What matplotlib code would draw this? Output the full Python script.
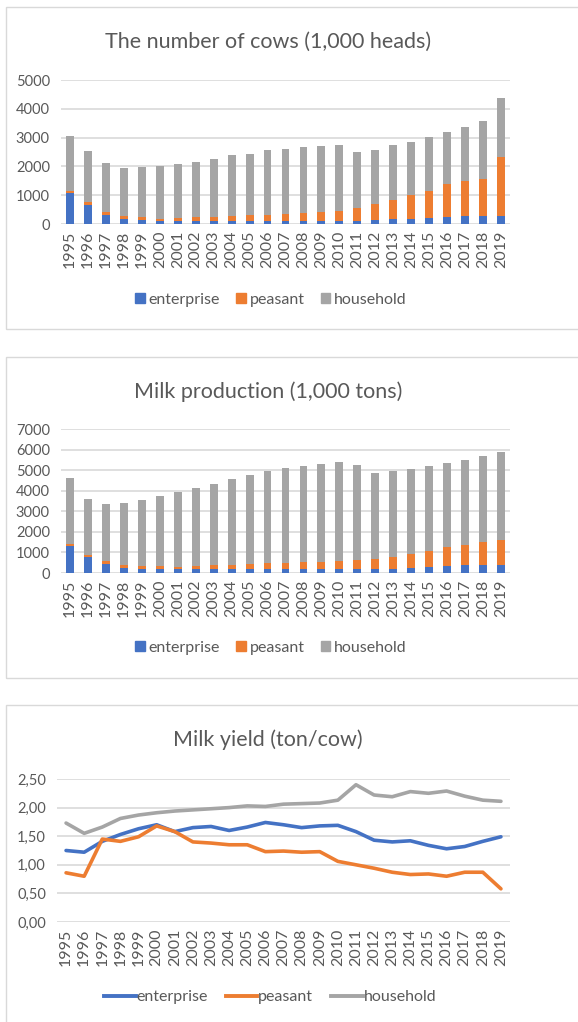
import matplotlib
matplotlib.use("Agg")
import matplotlib.pyplot as plt
from matplotlib.patches import Rectangle
from matplotlib.lines import Line2D
from matplotlib.ticker import FuncFormatter

years = [str(y) for y in range(1995, 2020)]
series_names = ["enterprise", "peasant", "household"]
colors = ["#4472C4", "#ED7D31", "#A5A5A5"]

# Number of cows (1,000 heads)
cows_enterprise = [1076, 648, 301, 174, 127, 116, 116, 116, 116, 116, 93, 93, 93, 93, 93,
                   116, 116, 150, 162, 174, 197, 243, 266, 266, 266]
cows_peasant = [70, 104, 104, 104, 104, 69, 104, 115, 139, 162, 208, 231, 266, 301, 312,
                347, 451, 544, 671, 833, 949, 1157, 1215, 1308, 2049]
cows_household = [1898, 1794, 1701, 1666, 1737, 1840, 1863, 1933, 2014, 2106, 2141, 2245,
                  2234, 2291, 2315, 2292, 1933, 1887, 1898, 1829, 1863, 1806, 1875, 1991, 2048]

# Milk production (1,000 tons)
milk_enterprise = [1329, 794, 437, 259, 211, 211, 178, 178, 178, 178, 178, 178, 178, 178, 178,
                   178, 178, 211, 211, 243, 275, 324, 373, 389, 405]
milk_peasant = [65, 81, 163, 146, 145, 145, 130, 178, 211, 227, 259, 308, 324, 341, 373,
                405, 454, 486, 583, 664, 794, 924, 1004, 1118, 1199]
milk_household = [3240, 2738, 2738, 2998, 3209, 3403, 3613, 3760, 3937, 4164, 4327, 4456,
                  4602, 4699, 4764, 4797, 4602, 4164, 4148, 4165, 4116, 4099, 4132, 4197, 4278]

# Milk yield (ton/cow)
yield_enterprise = [1.25, 1.22, 1.41, 1.53, 1.63, 1.70, 1.58, 1.65, 1.67, 1.60, 1.66, 1.74, 1.70,
                    1.65, 1.68, 1.69, 1.58, 1.43, 1.40, 1.42, 1.34, 1.28, 1.32, 1.41, 1.49]
yield_peasant = [0.86, 0.80, 1.45, 1.41, 1.49, 1.68, 1.58, 1.40, 1.38, 1.35, 1.35, 1.23, 1.24,
                 1.22, 1.23, 1.06, 1.00, 0.94, 0.87, 0.83, 0.84, 0.80, 0.87, 0.87, 0.58]
yield_household = [1.73, 1.55, 1.66, 1.81, 1.87, 1.91, 1.94, 1.96, 1.98, 2.00, 2.03, 2.02, 2.06,
                   2.07, 2.08, 2.13, 2.40, 2.22, 2.19, 2.28, 2.25, 2.29, 2.20, 2.13, 2.11]

plt.rcParams["font.family"] = ["Lato", "DejaVu Sans"]
TXT = "#595959"
GRID = "#D9D9D9"
W, H = 578, 1022

fig = plt.figure(figsize=(W / 100, H / 100), dpi=100)


def rect(x0, x1, ytop, ybot):
    return [x0 / W, 1 - ybot / H, (x1 - x0) / W, (ybot - ytop) / H]


# panel borders
for (ytop, ybot) in [(7, 329), (357, 678), (705, 1030)]:
    fig.patches.append(Rectangle((6 / W, 1 - ybot / H), (W + 10) / W, (ybot - ytop) / H,
                                 transform=fig.transFigure, fill=False,
                                 edgecolor=GRID, linewidth=1.0, zorder=0))


def style_axes(ax, ymax, step, fmt=None):
    ax.set_ylim(0, ymax)
    ax.set_xlim(-0.5, len(years) - 0.5)
    ax.set_yticks([i * step for i in range(int(round(ymax / step)) + 1)])
    if fmt:
        ax.yaxis.set_major_formatter(FuncFormatter(fmt))
    for s in ax.spines.values():
        s.set_visible(False)
    ax.grid(axis="y", color=GRID, linewidth=1.2)
    ax.set_axisbelow(True)
    ax.tick_params(axis="both", length=0, colors=TXT)
    ax.tick_params(axis="y", pad=8, labelsize=10.5)
    ax.tick_params(axis="x", pad=5, labelsize=11.5)
    ax.set_xticks(range(len(years)))
    ax.set_xticklabels(years, rotation=90)


def bar_chart(ax, ent, pea, hh, ymax, step):
    x = range(len(years))
    ax.bar(x, ent, width=0.44, color=colors[0])
    ax.bar(x, pea, width=0.44, bottom=ent, color=colors[1])
    bottom3 = [a + b for a, b in zip(ent, pea)]
    ax.bar(x, hh, width=0.44, bottom=bottom3, color=colors[2])
    style_axes(ax, ymax, step)


ax1 = fig.add_axes(rect(61, 510, 80, 224))
bar_chart(ax1, cows_enterprise, cows_peasant, cows_household, 5000, 1000)
ax2 = fig.add_axes(rect(61, 510, 429, 573))
bar_chart(ax2, milk_enterprise, milk_peasant, milk_household, 7000, 1000)

ax3 = fig.add_axes(rect(57, 510, 779, 922))
x = range(len(years))
for vals, c in zip([yield_enterprise, yield_peasant, yield_household], colors):
    ax3.plot(x, vals, color=c, linewidth=2.6, solid_capstyle="round")
style_axes(ax3, 2.5, 0.5, fmt=lambda v, p: f"{v:.2f}".replace(".", ","))

# titles
fig.text(268 / W, 1 - 42 / H, "The number of cows (1,000 heads)", ha="center", va="center",
         fontsize=15.5, color=TXT)
fig.text(268 / W, 1 - 392 / H, "Milk production (1,000 tons)", ha="center", va="center",
         fontsize=15.5, color=TXT)
fig.text(268 / W, 1 - 740 / H, "Milk yield (ton/cow)", ha="center", va="center",
         fontsize=15.5, color=TXT)

# legends
sq = [Rectangle((0, 0), 1, 1, color=c) for c in colors]
for yc in [300, 648]:
    fig.legend(sq, series_names, loc="center", bbox_to_anchor=(271 / W, 1 - yc / H),
               ncol=3, frameon=False, fontsize=11.5, labelcolor=TXT,
               handlelength=0.6, handleheight=0.6, handletextpad=0.25, columnspacing=1.0)
ln = [Line2D([0], [0], color=c, linewidth=2.8) for c in colors]
fig.legend(ln, series_names, loc="center", bbox_to_anchor=(270 / W, 1 - 997 / H),
           ncol=3, frameon=False, fontsize=11.5, labelcolor=TXT,
           handlelength=2.0, handletextpad=0.05, columnspacing=1.1)

fig.savefig("out.png", dpi=100, facecolor="white")
